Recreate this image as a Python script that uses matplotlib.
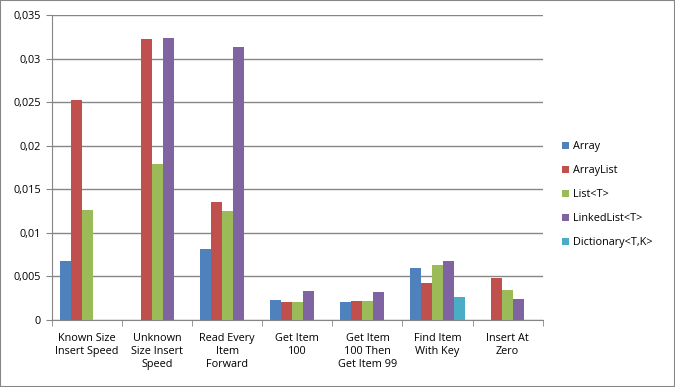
import numpy as np
import matplotlib.pyplot as plt
from matplotlib.patches import Patch, Rectangle
from matplotlib.ticker import FuncFormatter, MultipleLocator

plt.rcParams['font.family'] = ['Open Sans', 'DejaVu Sans']

categories = ['Known Size\nInsert Speed', 'Unknown\nSize Insert\nSpeed', 'Read Every\nItem\nForward',
              'Get Item\n100', 'Get Item\n100 Then\nGet Item 99', 'Find Item\nWith Key', 'Insert At\nZero']
series = ['Array', 'ArrayList', 'List<T>', 'LinkedList<T>', 'Dictionary<T,K>']
array_vals = [0.0068, 0, 0.0081, 0.0023, 0.0021, 0.0060, 0]
arraylist_vals = [0.0252, 0.0322, 0.0135, 0.0021, 0.0022, 0.0042, 0.0048]
list_vals = [0.0126, 0.0179, 0.0125, 0.0021, 0.0022, 0.0063, 0.0034]
linked_vals = [0, 0.0324, 0.0313, 0.0033, 0.0032, 0.0068, 0.0024]
dict_vals = [0, 0, 0, 0, 0, 0.0026, 0]
colors = ['#4F81BD', '#C0504D', '#9BBB59', '#8064A2', '#4BACC6']

values = [array_vals, arraylist_vals, list_vals, linked_vals, dict_vals]

fig = plt.figure(figsize=(6.75, 3.87), dpi=100)
ax = fig.add_axes([0.077, 0.173, 0.727, 0.788])

x = np.arange(len(categories))
w = 0.157
for i, (vals, c) in enumerate(zip(values, colors)):
    ax.bar(x + (i - 2) * w, vals, w, color=c, zorder=3)

ax.set_xlim(-0.5, len(categories) - 0.5)
ax.set_ylim(0, 0.035)
ax.yaxis.set_major_locator(MultipleLocator(0.005))
ax.yaxis.set_major_formatter(FuncFormatter(lambda v, p: ('%g' % round(v, 4)).replace('.', ',')))
ax.grid(axis='y', color='#868686', linewidth=1, zorder=0)

ax.set_xticks(x)
ax.set_xticklabels(categories, fontsize=7.8, linespacing=1.3)
ax.set_xticks(np.arange(len(categories) + 1) - 0.5, minor=True)
ax.tick_params(axis='x', which='major', length=0, pad=9)
ax.tick_params(axis='x', which='minor', length=4, color='#868686', direction='out')
ax.tick_params(axis='y', length=4, color='#868686', labelsize=7.8, pad=4)

for s in ['top', 'right']:
    ax.spines[s].set_visible(False)
for s in ['left', 'bottom']:
    ax.spines[s].set_color('#868686')

handles = [Patch(facecolor=c, edgecolor='none') for c in colors]
fig.legend(handles, series, loc='upper left', bbox_to_anchor=(0.818, 0.66), frameon=False,
           fontsize=7.8, handlelength=0.7, handleheight=0.7, handletextpad=0.3, labelspacing=1.2)

fig.patches.append(Rectangle((0, 0), 1, 1, transform=fig.transFigure, fill=False,
                             edgecolor='#868686', linewidth=1.5))

fig.savefig('out.png', dpi=100)
